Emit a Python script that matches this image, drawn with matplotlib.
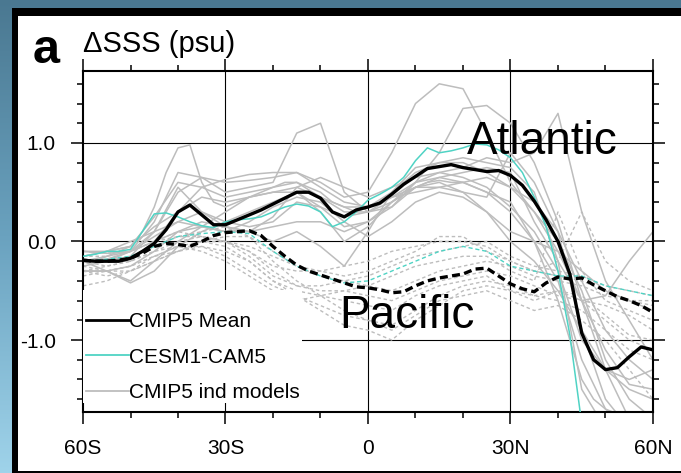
import numpy as np
import matplotlib.pyplot as plt
from matplotlib.patches import Rectangle
from matplotlib.lines import Line2D
from matplotlib.colors import LinearSegmentedColormap

# latitudes (negative = south)
lat5 = [-60, -55, -50, -45, -40, -35, -30, -25, -20, -15, -10, -5, 0,
        5, 10, 15, 20, 25, 30, 35, 40, 45, 50, 55, 60]
lat2 = [-60, -57.5, -55, -52.5, -50, -47.5, -45, -42.5, -40, -37.5, -35, -32.5,
        -30, -27.5, -25, -22.5, -20, -17.5, -15, -12.5, -10, -7.5, -5, -2.5, 0,
        2.5, 5, 7.5, 10, 12.5, 15, 17.5, 20, 22.5, 25, 27.5, 30, 32.5, 35, 37.5,
        40, 42.5, 45, 47.5, 50, 52.5, 55, 57.5, 60]

# CMIP5 mean
atl_mean = [-0.19, -0.2, -0.2, -0.2, -0.17, -0.1, -0.02, 0.12, 0.3, 0.37, 0.27, 0.17,
            0.17, 0.22, 0.27, 0.32, 0.38, 0.44, 0.5, 0.5, 0.44, 0.3, 0.25, 0.32, 0.35,
            0.39, 0.48, 0.58, 0.66, 0.74, 0.76, 0.78, 0.75, 0.73, 0.71, 0.72, 0.67, 0.57,
            0.41, 0.22, 0.0, -0.33, -0.93, -1.2, -1.3, -1.28, -1.17, -1.07, -1.1]
pac_mean = [-0.19, -0.2, -0.2, -0.19, -0.17, -0.12, -0.05, -0.02, -0.03, -0.05, 0.0, 0.06,
            0.09, 0.1, 0.11, 0.06, -0.05, -0.15, -0.24, -0.3, -0.34, -0.38, -0.42, -0.46,
            -0.47, -0.49, -0.52, -0.51, -0.45, -0.4, -0.37, -0.35, -0.33, -0.28, -0.27,
            -0.35, -0.43, -0.48, -0.51, -0.42, -0.36, -0.38, -0.37, -0.44, -0.5, -0.56,
            -0.6, -0.65, -0.72]

# CESM1-CAM5
atl_cesm = [-0.15, -0.13, -0.1, -0.1, -0.08, 0.1, 0.28, 0.29, 0.25, 0.2, 0.16, 0.14,
            0.2, 0.22, 0.23, 0.25, 0.3, 0.35, 0.38, 0.36, 0.3, 0.15, 0.2, 0.3, 0.42,
            0.48, 0.55, 0.65, 0.82, 0.95, 0.9, 0.92, 0.95, 0.99, 0.98, 0.93, 0.85, 0.7,
            0.45, 0.15, -0.3, -0.95, -1.85, -2.5, -2.5, -2.5, -2.5, -2.5, -2.5]
pac_cesm = [-0.2, -0.18, -0.15, -0.05, 0.05, 0.08, 0.1, 0.08, -0.1, -0.25, -0.35, -0.42,
            -0.4, -0.3, -0.2, -0.1, -0.05, -0.1, -0.25, -0.3, -0.35, -0.35, -0.45, -0.5, -0.55]

# CMIP5 individual models, Atlantic
atl_models = [
    [-0.2, -0.15, -0.1, 0.2, 0.7, 0.65, 0.6, 0.62, 0.65, 0.7, 0.6, 0.45, 0.5, 0.9, 1.4, 1.6, 1.55, 1.1, 0.6, 0.3, 0.0, -0.5, -1.2, -1.6, -1.8],
    [-0.25, -0.2, -0.1, 0.1, 0.5, 0.65, 0.5, 0.55, 0.6, 1.1, 1.2, 0.5, 0.3, 0.35, 0.6, 0.9, 1.35, 1.38, 1.2, 0.8, 0.2, -0.6, -1.3, -1.8, -1.9],
    [-0.1, -0.1, -0.05, 0.15, 0.3, 0.55, 0.63, 0.68, 0.7, 0.7, 0.55, 0.4, 0.35, 0.45, 0.6, 0.7, 0.75, 0.85, 0.8, 0.9, 1.3, 0.3, -0.4, -0.8, -1.2],
    [-0.3, -0.3, -0.4, -0.2, 0.0, 0.15, 0.3, 0.45, 0.5, 0.55, 0.45, 0.3, 0.3, 0.4, 0.55, 0.6, 0.5, 0.3, 0.0, -0.2, -0.5, -0.9, -1.3, -1.5, -1.6],
    [-0.15, -0.1, 0.0, 0.1, 0.2, 0.3, 0.2, 0.15, 0.2, 0.4, 0.35, 0.15, 0.2, 0.35, 0.55, 0.65, 0.7, 0.75, 0.7, 0.2, -0.2, -0.6, -0.55, -0.2, 0.1],
    [-0.2, -0.18, -0.1, 0.05, 0.2, 0.15, 0.1, 0.2, 0.35, 0.45, 0.4, 0.2, 0.05, 0.2, 0.4, 0.5, 0.45, 0.3, 0.1, 0.0, -0.1, -0.3, -0.5, -0.6, -0.7],
    [-0.2, -0.2, -0.15, 0.1, 0.55, 0.3, 0.15, 0.1, 0.25, 0.55, 0.65, 0.55, 0.45, 0.55, 0.65, 0.7, 0.65, 0.55, 0.35, 0.1, -0.3, -1.0, -1.3, -1.4, -1.3],
    [-0.1, -0.12, -0.1, 0.0, 0.1, 0.2, 0.15, 0.1, 0.0, 0.1, -0.05, -0.25, 0.1, 0.5, 0.75, 0.8, 0.8, 0.7, 0.55, 0.4, 0.1, -0.9, -1.6, -1.9, -2.0],
    [-0.2, -0.2, -0.2, 0.0, 0.3, 0.45, 0.4, 0.45, 0.5, 0.5, 0.35, 0.25, 0.3, 0.45, 0.5, 0.55, 0.6, 0.65, 0.55, 0.3, -0.1, -0.6, -1.1, -1.45, -1.5],
    [-0.3, -0.3, -0.25, -0.1, 0.1, 0.15, 0.1, 0.1, 0.15, 0.2, 0.2, 0.1, 0.2, 0.4, 0.55, 0.55, 0.5, 0.45, 0.9, 0.6, 0.1, -0.4, -0.9, -1.2, -1.4],
    [-0.2, -0.3, -0.42, -0.3, -0.05, 0.1, 0.2, 0.3, 0.4, 0.5, 0.3, 0.0, 0.15, 0.4, 0.6, 0.65, 0.6, 0.5, 0.3, 0.0, -0.4, -1.2, -1.7, -1.9, -2.0],
    [-0.15, -0.1, -0.05, 0.25, 0.6, 0.55, 0.45, 0.5, 0.55, 0.6, 0.45, 0.35, 0.35, 0.5, 0.7, 0.8, 0.85, 0.8, 0.75, 0.5, -0.2, -1.5, -1.9, -2.0, -2.0],
]

# one model with a sharp peak near 38S, on the finer grid
atl_model_peak = [-0.2, -0.2, -0.15, -0.1, -0.05, 0.1, 0.35, 0.7, 0.95, 0.98, 0.6, 0.4,
                  0.35, 0.4, 0.45, 0.5, 0.55, 0.6, 0.6, 0.55, 0.5, 0.4, 0.35, 0.3, 0.35,
                  0.4, 0.45, 0.5, 0.55, 0.6, 0.62, 0.6, 0.6, 0.55, 0.5, 0.45, 0.4, 0.2,
                  0.0, -0.3, -0.6, -1.0, -1.4, -1.6, -1.7, -1.75, -1.8, -1.8, -1.8]

# CMIP5 individual models, Pacific
pac_models = [
    [-0.25, -0.3, -0.3, -0.2, -0.1, 0.0, 0.05, 0.05, -0.1, -0.25, -0.3, -0.35, -0.3, -0.2, -0.1, 0.05, 0.05, -0.1, -0.2, -0.3, -0.35, -0.4, -0.5, -0.6, -0.6],
    [-0.3, -0.35, -0.3, -0.15, -0.05, -0.05, -0.1, -0.2, -0.4, -0.5, -0.55, -0.6, -0.65, -0.7, -0.55, -0.45, -0.4, -0.35, -0.5, -0.6, -0.5, -0.6, -0.8, -1.0, -1.1],
    [-0.2, -0.2, -0.15, -0.05, 0.05, 0.1, 0.15, 0.05, -0.2, -0.4, -0.55, -0.7, -0.8, -0.9, -0.75, -0.6, -0.55, -0.5, -0.6, -0.7, -0.65, -0.8, -1.0, -1.3, -1.6],
    [-0.45, -0.4, -0.3, -0.2, -0.1, 0.0, 0.0, -0.1, -0.25, -0.3, -0.3, -0.25, -0.2, -0.1, -0.05, 0.0, 0.0, -0.05, -0.2, -0.3, -0.2, 0.3, -0.2, -0.4, -0.5],
    [-0.15, -0.15, -0.1, 0.0, 0.05, 0.05, 0.0, -0.1, -0.3, -0.45, -0.5, -0.5, -0.45, -0.35, -0.25, -0.2, -0.15, -0.15, -0.3, -0.4, 0.3, -0.3, -0.6, -0.7, -0.8],
    [-0.3, -0.25, -0.2, -0.1, -0.05, -0.1, -0.2, -0.35, -0.5, -0.6, -0.55, -0.5, -0.55, -0.6, -0.5, -0.4, -0.35, -0.3, -0.35, -0.45, -0.55, -0.6, -0.65, -0.75, -0.9],
    [-0.1, -0.12, -0.1, 0.0, 0.1, 0.05, 0.0, -0.05, -0.15, -0.25, -0.35, -0.4, -0.35, -0.25, -0.15, -0.1, -0.05, 0.0, -0.15, -0.25, -0.3, -0.35, -0.45, -0.5, -0.55],
    [-0.35, -0.3, -0.25, -0.15, -0.1, -0.05, -0.15, -0.3, -0.45, -0.55, -0.65, -0.75, -0.8, -0.85, -0.7, -0.55, -0.45, -0.4, -0.45, -0.55, -0.6, -0.7, -0.9, -1.1, -1.2],
    [-0.2, -0.25, -0.2, -0.1, 0.0, 0.05, 0.0, -0.15, -0.35, -0.45, -0.45, -0.4, -0.45, -0.5, -0.4, -0.3, -0.25, -0.2, -0.25, -0.35, -0.4, -0.45, -0.55, -0.6, -0.65],
    [-0.3, -0.3, -0.25, -0.15, -0.05, 0.0, -0.05, -0.2, -0.4, -0.55, -0.7, -0.85, -0.9, -1.0, -0.8, -0.65, -0.5, -0.45, -0.5, -0.55, -0.5, -0.55, -0.75, -0.95, -1.0],
]

xticks = [-60, -30, 0, 30, 60]
xticklabels = ["60S", "30S", "0", "30N", "60N"]
yticks = [-1.0, 0.0, 1.0]

plt.rcParams['font.family'] = ['Liberation Sans', 'DejaVu Sans']

W, H = 681, 473
fig = plt.figure(figsize=(W / 100, H / 100), dpi=100)

# water-ish background, black frame, white panel
bg = fig.add_axes([0, 0, 1, 1], zorder=-10)
grad = np.linspace(0, 1, 256).reshape(-1, 1)
bg.imshow(grad, aspect='auto', extent=[0, 1, 0, 1],
          cmap=LinearSegmentedColormap.from_list('w', ['#4a7891', '#6aa2bf', '#9fd3ea']))
bg.set_axis_off()
fig.patches.append(Rectangle((12 / W, 0), 1, (H - 8) / H, transform=fig.transFigure,
                             facecolor='black', edgecolor='none', zorder=-5))
fig.patches.append(Rectangle((18 / W, 2 / H), 1, (H - 18) / H, transform=fig.transFigure,
                             facecolor='white', edgecolor='none', zorder=-4))

ax = fig.add_axes([83 / W, 1 - 412 / H, 570 / W, 341 / H])
ax.set_facecolor('none')

gray = '#bdbdbd'
teal = '#4fd3c4'
for vals in pac_models:
    ax.plot(lat5, vals, color=gray, lw=1.0, dashes=(2.5, 2), zorder=2)
for vals in atl_models:
    ax.plot(lat5, vals, color=gray, lw=1.1, zorder=2)
ax.plot(lat2, atl_model_peak, color=gray, lw=1.1, zorder=2)
ax.plot(lat5, pac_cesm, color=teal, lw=1.0, dashes=(3, 2), zorder=3)
ax.plot(lat2, atl_cesm, color=teal, lw=1.1, zorder=3)
ax.plot(lat2, pac_mean, color='black', lw=2.4, dashes=(2.4, 1.3), zorder=4)
ax.plot(lat2, atl_mean, color='black', lw=2.4, zorder=4)

ax.set_xlim(-60, 60)
ax.set_ylim(-1.73, 1.73)
ax.set_xticks(xticks)
ax.set_xticklabels(xticklabels)
ax.set_xticks(range(-50, 60, 10), minor=True)
ax.set_yticks(yticks)
ax.set_yticklabels(["-1.0", "0.0", "1.0"])
ax.set_yticks([-1.6, -1.4, -1.2, -0.8, -0.6, -0.4, -0.2, 0.2, 0.4, 0.6, 0.8, 1.2, 1.4, 1.6], minor=True)
ax.tick_params(which='both', direction='out', top=True, right=True, width=1.1,
               labelsize=15, pad=11)
ax.tick_params(which='major', length=8.5)
ax.tick_params(which='minor', length=4.5)
for s in ax.spines.values():
    s.set_linewidth(1.5)
for v in xticks[1:-1]:
    ax.axvline(v, color='black', lw=0.8, zorder=1)
for v in yticks:
    ax.axhline(v, color='black', lw=0.8, zorder=1)

# white legend box
ax.add_patch(Rectangle((0, 0.026), 0.384, 0.332, transform=ax.transAxes,
                       facecolor='white', edgecolor='none', zorder=5))
handles = [Line2D([], [], color='black', lw=2.0),
           Line2D([], [], color=teal, lw=1.3),
           Line2D([], [], color=gray, lw=1.3)]
leg = ax.legend(handles, ["CMIP5 Mean", "CESM1-CAM5", "CMIP5 ind models"],
                loc='upper left', bbox_to_anchor=(0.006, 0.292), frameon=False,
                fontsize=15, handlelength=2.05, handletextpad=0.0,
                labelspacing=0.78, borderaxespad=0, borderpad=0)
leg.set_zorder(6)

ax.text(20.8, 0.89, "Atlantic", fontsize=33, ha='left', va='baseline', zorder=7)
ax.text(-6.1, -0.88, "Pacific", fontsize=33, ha='left', va='baseline', zorder=7)

fig.text(33 / W, 1 - 63 / H, "a", fontsize=35, fontweight='bold', ha='left', va='baseline')
fig.text(83 / W, 1 - 52 / H, "\u0394SSS (psu)", fontsize=21, ha='left', va='baseline')

fig.savefig("out.png", dpi=100)
